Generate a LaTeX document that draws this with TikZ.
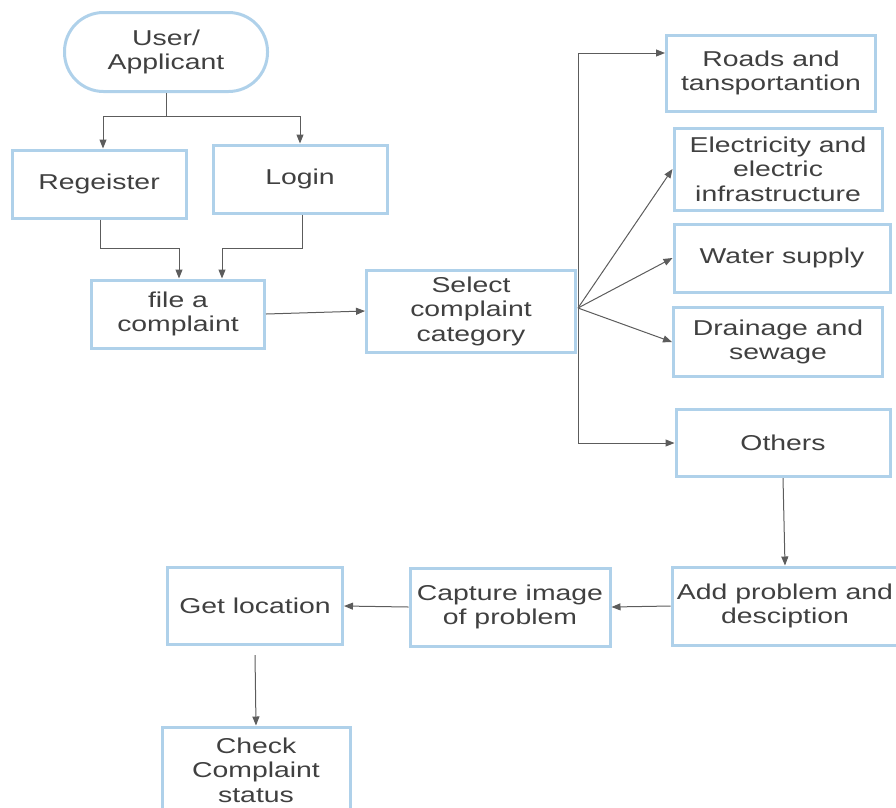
\documentclass[tikz,border=0pt]{standalone}
\usepackage{fontspec}
\setmainfont{Liberation Sans}[FakeStretch=1.32]
\usetikzlibrary{arrows.meta, positioning, calc}
\definecolor{boxblue}{HTML}{AFD1EA}
\definecolor{txtgray}{HTML}{404040}
\definecolor{arrgray}{HTML}{5C5C5C}

\begin{document}
\begin{tikzpicture}[x=1pt, y=-1pt,
  blk/.style={draw=boxblue, line width=3pt, text=txtgray, align=center,
    inner sep=0pt, font=\fontsize{21.5}{24.5}\selectfont},
  arr/.style={draw=arrgray, line width=1pt, -{Triangle[length=9pt, width=7pt]}},
  ln/.style={draw=arrgray, line width=1pt}]
\useasboundingbox (0,0) rectangle (896,807);

% Start and account
\node[blk, rounded corners=39pt, minimum width=203pt, minimum height=79pt] (user) at (166,52) {User/\\Applicant};
\node[blk, minimum width=174pt, minimum height=68pt] (reg) at (99,184) {Regeister};
\node[blk, minimum width=174pt, minimum height=68pt] (login) at (300,179) {Login};
\node[blk, minimum width=173pt, minimum height=68pt] (file) at (178,314) {file a\\complaint};
\node[blk, minimum width=209pt, minimum height=82pt] (select) at (471,311) {Select\\complaint\\category};

% Categories
\node[blk, minimum width=209pt, minimum height=76pt] (roads) at (771,73) {Roads and\\tansportantion};
\node[blk, minimum width=208pt, minimum height=82pt] (elec) at (778,169) {Electricity and\\electric\\infrastructure};
\node[blk, minimum width=216pt, minimum height=68pt] (water) at (782,258) {Water supply};
\node[blk, minimum width=209pt, minimum height=69pt] (drain) at (778,342) {Drainage and\\sewage};
\node[blk, minimum width=214pt, minimum height=67pt] (others) at (783,443) {Others};

% Bottom row
\node[blk, minimum width=226pt, minimum height=78pt] (add) at (785,606) {Add problem and\\desciption};
\node[blk, minimum width=200pt, minimum height=78pt] (capture) at (510,607) {Capture image\\of problem};
\node[blk, minimum width=175pt, minimum height=77pt] (getloc) at (255,606) {Get location};
\node[blk, minimum width=188pt, minimum height=86pt] (check) at (256,770) {Check\\Complaint\\status};

% Connectors
\coordinate (split) at (166,116);
\coordinate (hub) at (578,308);
\draw[ln] (user.south) -- (split);
\draw[arr] (split) -| ([xshift=4pt]reg.north);
\draw[arr] (split) -| (login.north);
\draw[arr] ([xshift=1pt]reg.south) -- ++(0,29) -| ([xshift=1pt]file.north);
\draw[arr] ([xshift=2pt]login.south) -- ++(0,34) -| ([xshift=44pt]file.north);
\draw[arr] (file.east) -- (select.west);

\draw[arr] (hub) |- ([yshift=20pt]roads.west);
\draw[arr] (hub) -- (elec.west);
\draw[arr] (hub) -- (water.west);
\draw[arr] (hub) -- (drain.west);
\draw[arr] (hub) |- (others.west);

\draw[arr] (others.south) -- (add.north);
\draw[arr] (add.west) -- (capture.east);
\draw[arr] (capture.west) -- (getloc.east);
\draw[arr] ([yshift=-9pt]getloc.south) -- (check.north);

\end{tikzpicture}
\end{document}
